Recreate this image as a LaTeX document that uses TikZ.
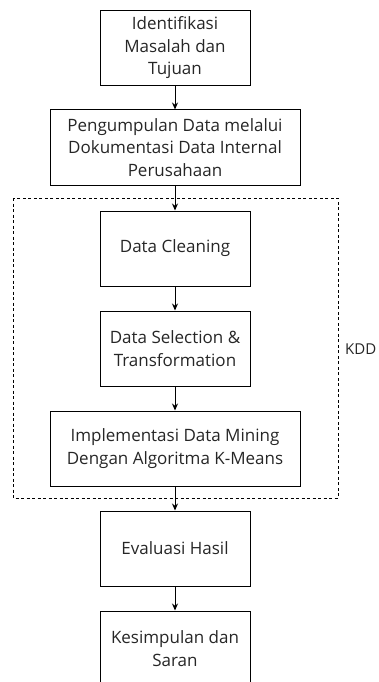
\documentclass[tikz,border=0pt]{standalone}
\usepackage{fontspec}
\setmainfont{Open Sans}
\usetikzlibrary{arrows.meta}

\tikzset{
	stepbox/.style={draw, line width=1pt, minimum width=150pt, minimum height=75pt,
		align=center, inner sep=0pt, font=\fontsize{17}{22.5}\selectfont, text=black!85},
	widebox/.style={stepbox, minimum width=250pt},
	flow/.style={-{Stealth[length=7pt,width=6pt]}, line width=1pt}
}

\begin{document}
\begin{tikzpicture}[>=Stealth, x=1pt, y=-1pt]
		\clip (0,0) rectangle (379,682);
		\useasboundingbox (0,0) rectangle (379,682);
		% area KDD
		\draw[dash pattern=on 3pt off 2.5pt, line width=0.8pt] (13,198) rectangle (338,498);
		\node[anchor=west, inner sep=0pt, font=\fontsize{15}{18}\selectfont, text=black!85] (kdd) at (345,349) {KDD};
		% tahapan
		\node[stepbox] (identifikasi) at (175,48) {Identifikasi\\Masalah dan\\Tujuan};
		\node[widebox] (pengumpulan) at (175,147.5) {Pengumpulan Data melalui\\Dokumentasi Data Internal\\Perusahaan};
		\node[stepbox] (cleaning) at (175,248.5) {Data Cleaning};
		\node[stepbox] (selection) at (175,348.5) {Data Selection \&\\Transformation};
		\node[widebox] (mining) at (175,448.5) {Implementasi Data Mining\\Dengan Algoritma K-Means};
		\node[stepbox] (evaluasi) at (175,548.5) {Evaluasi Hasil};
		\node[stepbox] (kesimpulan) at (175,648.5) {Kesimpulan dan\\Saran};
		% panah
		\draw[flow] (identifikasi) -- (pengumpulan);
		\draw[flow] (pengumpulan) -- (cleaning);
		\draw[flow] (cleaning) -- (selection);
		\draw[flow] (selection) -- (mining);
		\draw[flow] (mining) -- (evaluasi);
		\draw[flow] (evaluasi) -- (kesimpulan);
\end{tikzpicture}
\end{document}
